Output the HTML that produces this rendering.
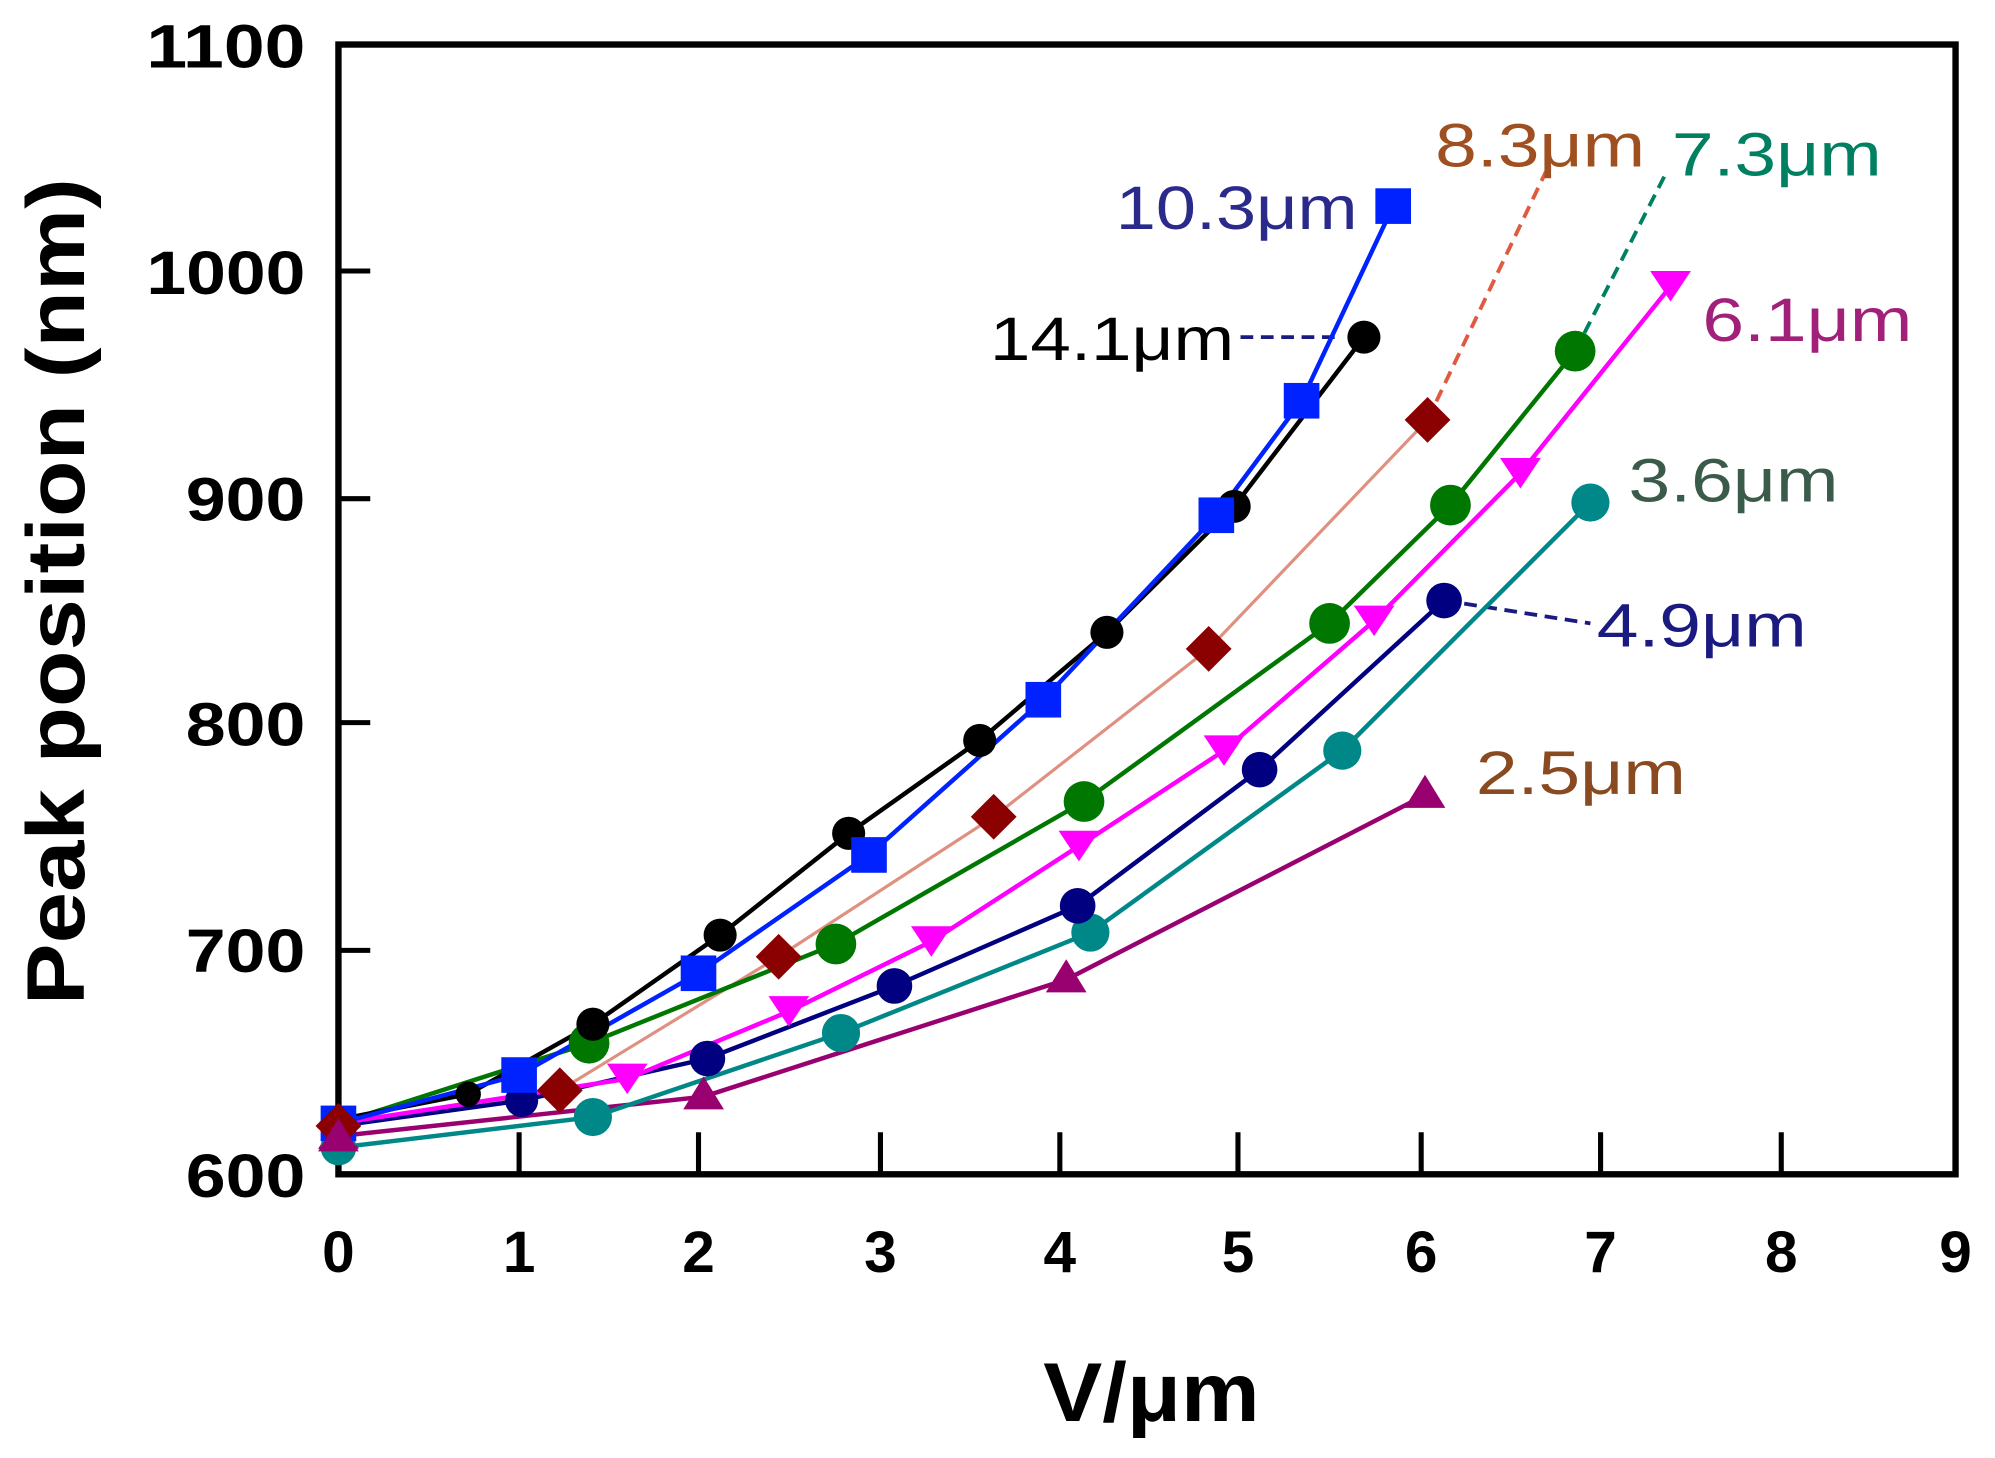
<!DOCTYPE html>
<html><head><meta charset="utf-8"><style>html,body{margin:0;padding:0;background:#fff}svg{display:block}</style></head>
<body>
<svg width="1995" height="1458" viewBox="0 0 1568 1146" preserveAspectRatio="none" xmlns="http://www.w3.org/2000/svg">
<rect width="1568" height="1146" fill="#fff"/>
<g font-family="Liberation Sans, sans-serif" font-weight="bold" font-size="48" fill="#000" lengthAdjust="spacingAndGlyphs">
<text x="240" y="53" text-anchor="end" textLength="125" lengthAdjust="spacingAndGlyphs">1100</text>
<text x="240" y="231" text-anchor="end" textLength="125" lengthAdjust="spacingAndGlyphs">1000</text>
<text x="240" y="409" text-anchor="end" textLength="94" lengthAdjust="spacingAndGlyphs">900</text>
<text x="240" y="586" text-anchor="end" textLength="94" lengthAdjust="spacingAndGlyphs">800</text>
<text x="240" y="764" text-anchor="end" textLength="94" lengthAdjust="spacingAndGlyphs">700</text>
<text x="240" y="941" text-anchor="end" textLength="94" lengthAdjust="spacingAndGlyphs">600</text>
<g text-anchor="middle" font-size="46">
<text x="266" y="1000">0</text><text x="408" y="1000">1</text><text x="549" y="1000">2</text><text x="692" y="1000">3</text><text x="833" y="1000">4</text><text x="973" y="1000">5</text><text x="1117" y="1000">6</text><text x="1258" y="1000">7</text><text x="1400" y="1000">8</text><text x="1537" y="1000">9</text>
</g>
<text x="905" y="1117" text-anchor="middle" font-size="66" textLength="170" lengthAdjust="spacingAndGlyphs">V/μm</text>
<text transform="translate(66,465) rotate(-90)" text-anchor="middle" font-size="64" textLength="650" lengthAdjust="spacingAndGlyphs">Peak position (nm)</text>
</g>
<g stroke="#000" stroke-width="4" fill="none">
<rect x="266" y="35" width="1271" height="888" stroke-width="5"/>
<path d="M408 923v-33M549 923v-33M692 923v-33M833 923v-33M973 923v-33M1117 923v-33M1258 923v-33M1400 923v-33M266 213h25M266 392h25M266 568h25M266 747h25"/>
</g>
<g fill="none" stroke-width="3" stroke-dasharray="10,6">
<path d="M975 265H1050" stroke="#1a1a80"/>
<path d="M1122 330L1215 135" stroke="#e05a40"/>
<path d="M1238 276L1310 135" stroke="#008060"/>
<path d="M1135 472L1250 490" stroke="#1a1a80"/>
</g>
<g fill="none" stroke-width="3.5">
<polyline stroke="#e09080" stroke-width="2.5" points="266,885 440,857 612,752 781,642 950,510 1122,330"/>
<polyline stroke="#990070" points="266,893 553,862 838,770 1120,625"/>
<polyline stroke="#008888" points="266,902 466,878 661,812 857,733 1055,590 1250,395"/>
<polyline stroke="#000080" points="266,885 410,865 556,832 703,775 847,712 990,605 1135,472"/>
<polyline stroke="#ff00ff" points="266,883 493,848 620,795 732,740 848,665 962,590 1080,488 1195,372 1313,225"/>
<polyline stroke="#007700" points="266,883 463,820 657,742 852,630 1045,490 1140,397 1238,276"/>
<polyline stroke="#000" points="266,880 368,860 466,805 566,735 667,655 770,582 870,497 970,398 1072,265"/>
<polyline stroke="#0022ff" points="266,883 408,845 549,765 683,672 820,550 956,405 1023,315 1095,162"/>
</g>
<g fill="#990070"><path d="M266,877l16,26h-32z"/><path d="M553,846l16,26h-32z"/><path d="M838,754l16,26h-32z"/><path d="M1120,609l16,26h-32z"/></g>
<g fill="#008888"><circle cx="266" cy="902" r="14"/><circle cx="466" cy="878" r="15"/><circle cx="661" cy="812" r="15"/><circle cx="857" cy="733" r="15"/><circle cx="1055" cy="590" r="15"/><circle cx="1250" cy="395" r="15"/></g>
<g fill="#000080"><circle cx="410" cy="865" r="13"/><circle cx="556" cy="832" r="14"/><circle cx="703" cy="775" r="14"/><circle cx="847" cy="712" r="14"/><circle cx="990" cy="605" r="14"/><circle cx="1135" cy="472" r="14"/></g>
<g fill="#ff00ff"><path d="M493,860l-16,-24h32z"/><path d="M620,807l-16,-24h32z"/><path d="M732,752l-16,-24h32z"/><path d="M848,677l-16,-24h32z"/><path d="M962,602l-16,-24h32z"/><path d="M1080,500l-16,-24h32z"/><path d="M1195,384l-16,-24h32z"/><path d="M1313,237l-16,-24h32z"/></g>
<g fill="#007700"><circle cx="463" cy="820" r="16"/><circle cx="657" cy="742" r="16"/><circle cx="852" cy="630" r="16"/><circle cx="1045" cy="490" r="16"/><circle cx="1140" cy="397" r="16"/><circle cx="1238" cy="276" r="16"/></g>
<g fill="#000"><circle cx="368" cy="860" r="10"/><circle cx="466" cy="805" r="13"/><circle cx="566" cy="735" r="13"/><circle cx="667" cy="655" r="13"/><circle cx="770" cy="582" r="13"/><circle cx="870" cy="497" r="13"/><circle cx="970" cy="398" r="13"/><circle cx="1072" cy="265" r="13"/></g>
<g fill="#0022ff"><rect x="252" y="869" width="28" height="28"/><rect x="394" y="831" width="28" height="28"/><rect x="535" y="751" width="28" height="28"/><rect x="669" y="658" width="28" height="28"/><rect x="806" y="536" width="28" height="28"/><rect x="942" y="391" width="28" height="28"/><rect x="1009" y="301" width="28" height="28"/><rect x="1081" y="148" width="28" height="28"/></g>
<g fill="#8b0000"><path d="M266,867l18,18l-18,18l-18,-18z"/><path d="M440,839l18,18l-18,18l-18,-18z"/><path d="M612,734l18,18l-18,18l-18,-18z"/><path d="M781,624l18,18l-18,18l-18,-18z"/><path d="M950,492l18,18l-18,18l-18,-18z"/><path d="M1122,312l18,18l-18,18l-18,-18z"/></g>
<path d="M266,879l16,26h-32z" fill="#990070"/>
<g font-family="Liberation Sans, sans-serif" font-size="48">
<text x="877" y="180" fill="#2a2a8a" textLength="190" lengthAdjust="spacingAndGlyphs">10.3μm</text>
<text x="778" y="283" fill="#000" textLength="192" lengthAdjust="spacingAndGlyphs">14.1μm</text>
<text x="1128" y="131" fill="#a05020" textLength="165" lengthAdjust="spacingAndGlyphs">8.3μm</text>
<text x="1314" y="138" fill="#008060" textLength="165" lengthAdjust="spacingAndGlyphs">7.3μm</text>
<text x="1338" y="268" fill="#a0207a" textLength="165" lengthAdjust="spacingAndGlyphs">6.1μm</text>
<text x="1280" y="394" fill="#3a5a4a" textLength="165" lengthAdjust="spacingAndGlyphs">3.6μm</text>
<text x="1255" y="508" fill="#1a1a80" textLength="165" lengthAdjust="spacingAndGlyphs">4.9μm</text>
<text x="1160" y="624" fill="#8a4a20" textLength="165" lengthAdjust="spacingAndGlyphs">2.5μm</text>
</g>
</svg>
</body></html>
